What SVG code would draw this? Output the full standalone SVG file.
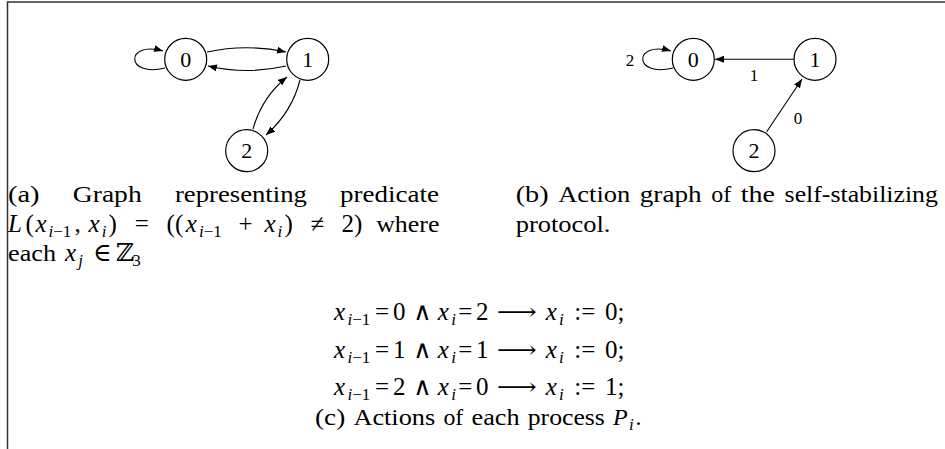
<svg xmlns="http://www.w3.org/2000/svg" width="945" height="449" viewBox="0 0 945 449">
<style>
.t{font-family:"Liberation Serif","DejaVu Serif",serif;font-size:24px;fill:#000}
.m{font-size:25px}
.i{font-style:italic}
.s{font-size:17px}
.n{font-family:"Liberation Serif","DejaVu Serif",serif;font-size:22px;text-anchor:middle;fill:#000}
.e{font-family:"Liberation Serif","DejaVu Serif",serif;font-size:17px;text-anchor:middle;fill:#000}
.c{fill:#fff;stroke:#000;stroke-width:1.2}
.l{fill:none;stroke:#000;stroke-width:1.1}
.b{fill:none;stroke:#333;stroke-width:1.5}
</style>
<defs>
<marker id="ah" markerUnits="userSpaceOnUse" markerWidth="10" markerHeight="8" refX="9" refY="3.5" orient="auto">
<path d="M0,0 L9,3.5 L0,7 z" fill="#000"/>
</marker>
</defs>
<rect width="945" height="449" fill="#fff"/>
<path class="b" d="M7.5,449 L7.5,2 L945,2"/>

<g id="connectors">
<path class="l" d="M165,68 C125,78 125,40 163,51" marker-end="url(#ah)"/>
<path class="l" d="M207,52 Q246,43.5 286,52" marker-end="url(#ah)"/>
<path class="l" d="M286,66 Q247,75 208,66" marker-end="url(#ah)"/>
<path class="l" d="M253,129 Q262,97 287,77" marker-end="url(#ah)"/>
<path class="l" d="M300,80 Q292,112 266,135" marker-end="url(#ah)"/>
<path class="l" d="M673,68 C633,78 633,40 671,51" marker-end="url(#ah)"/>
<path class="l" d="M794,59.3 L715,59.3" marker-end="url(#ah)"/>
<path class="l" d="M766.7,131.7 L802,79" marker-end="url(#ah)"/>
<text class="e" x="630" y="65.8">2</text>
<text class="e" x="754" y="80.8">1</text>
<text class="e" x="798" y="123.8">0</text>
</g>

<g id="a0"><circle class="c" cx="185.7" cy="59.3" r="21"/><text class="n" x="185.7" y="66.8">0</text></g>
<g id="a1"><circle class="c" cx="307.7" cy="59.3" r="21"/><text class="n" x="307.7" y="66.8">1</text></g>
<g id="a2"><circle class="c" cx="246.7" cy="150.7" r="21"/><text class="n" x="246.7" y="158.2">2</text></g>
<g id="b0"><circle class="c" cx="693.3" cy="59.3" r="21"/><text class="n" x="693.3" y="66.8">0</text></g>
<g id="b1"><circle class="c" cx="815" cy="59.3" r="21"/><text class="n" x="815" y="66.8">1</text></g>
<g id="b2"><circle class="c" cx="754" cy="150.7" r="21"/><text class="n" x="754" y="158.2">2</text></g>

<g id="caption-a">
<text class="t" x="8" y="202" textLength="31.6" lengthAdjust="spacingAndGlyphs">(a)</text>
<text class="t" x="72.8" y="202" textLength="68.9" lengthAdjust="spacingAndGlyphs">Graph</text>
<text class="t" x="174.9" y="202" textLength="132" lengthAdjust="spacingAndGlyphs">representing</text>
<text class="t" x="340.1" y="202" textLength="98.9" lengthAdjust="spacingAndGlyphs">predicate</text>
<text class="t m" y="231.6"><tspan x="8" class="i">L</tspan><tspan x="25.5">(</tspan><tspan x="35.5" class="i">x</tspan><tspan x="48.5" dy="5" class="s"><tspan class="i">i</tspan>−1</tspan><tspan x="74.6" dy="-5">,</tspan><tspan x="88.6" class="i">x</tspan><tspan x="101.7" dy="5" class="s i">i</tspan><tspan x="108.6" dy="-5">)</tspan><tspan x="134.8">=</tspan><tspan x="166.6">((</tspan><tspan x="185.8" class="i">x</tspan><tspan x="198.9" dy="5" class="s"><tspan class="i">i</tspan>−1</tspan><tspan x="238.4" dy="-5">+</tspan><tspan x="264.4" class="i">x</tspan><tspan x="277.5" dy="5" class="s i">i</tspan><tspan x="284.4" dy="-5">)</tspan><tspan x="310.4">≠</tspan><tspan x="341.4">2)</tspan></text>
<text class="t" x="376.2" y="231.6" textLength="63.2" lengthAdjust="spacingAndGlyphs">where</text>
<text class="t" x="8" y="261.2" textLength="48" lengthAdjust="spacingAndGlyphs">each</text>
<text class="t m" y="261.2"><tspan x="65" class="i">x</tspan><tspan x="78.3" dy="5" class="s i">j</tspan><tspan x="93" dy="-5">∈</tspan><tspan x="115.7">ℤ</tspan><tspan x="132.2" dy="5" class="s">3</tspan></text>
</g>

<g id="caption-b">
<text class="t" x="515.7" y="202" textLength="32.9" lengthAdjust="spacingAndGlyphs">(b)</text>
<text class="t" x="558.2" y="202" textLength="72" lengthAdjust="spacingAndGlyphs">Action</text>
<text class="t" x="639.8" y="202" textLength="61.8" lengthAdjust="spacingAndGlyphs">graph</text>
<text class="t" x="711.2" y="202" textLength="19.9" lengthAdjust="spacingAndGlyphs">of</text>
<text class="t" x="740.7" y="202" textLength="34.3" lengthAdjust="spacingAndGlyphs">the</text>
<text class="t" x="784.6" y="202" textLength="153.3" lengthAdjust="spacingAndGlyphs">self-stabilizing</text>
<text class="t" x="515.7" y="231.6" textLength="94.8" lengthAdjust="spacingAndGlyphs">protocol.</text>
</g>

<g id="actions">
<text class="t m" y="320"><tspan x="334" class="i">x</tspan><tspan x="347.5" dy="5" class="s"><tspan class="i">i</tspan>−1</tspan><tspan x="375" dy="-5">=</tspan><tspan x="393">0</tspan><tspan x="413.3">∧</tspan><tspan x="437.8" class="i">x</tspan><tspan x="451.3" dy="5" class="s i">i</tspan><tspan x="458.3" dy="-5">=</tspan><tspan x="476">2</tspan><tspan x="545.7" class="i">x</tspan><tspan x="559.1" dy="5" class="s i">i</tspan><tspan x="574.2" dy="-5">:=</tspan><tspan x="605">0;</tspan></text>
<text class="t" x="496.8" y="320" textLength="40" lengthAdjust="spacingAndGlyphs">⟶</text>
<text class="t m" y="357.5"><tspan x="334" class="i">x</tspan><tspan x="347.5" dy="5" class="s"><tspan class="i">i</tspan>−1</tspan><tspan x="375" dy="-5">=</tspan><tspan x="393">1</tspan><tspan x="413.3">∧</tspan><tspan x="437.8" class="i">x</tspan><tspan x="451.3" dy="5" class="s i">i</tspan><tspan x="458.3" dy="-5">=</tspan><tspan x="476">1</tspan><tspan x="545.7" class="i">x</tspan><tspan x="559.1" dy="5" class="s i">i</tspan><tspan x="574.2" dy="-5">:=</tspan><tspan x="605">0;</tspan></text>
<text class="t" x="496.8" y="357.5" textLength="40" lengthAdjust="spacingAndGlyphs">⟶</text>
<text class="t m" y="395"><tspan x="334" class="i">x</tspan><tspan x="347.5" dy="5" class="s"><tspan class="i">i</tspan>−1</tspan><tspan x="375" dy="-5">=</tspan><tspan x="393">2</tspan><tspan x="413.3">∧</tspan><tspan x="437.8" class="i">x</tspan><tspan x="451.3" dy="5" class="s i">i</tspan><tspan x="458.3" dy="-5">=</tspan><tspan x="476">0</tspan><tspan x="545.7" class="i">x</tspan><tspan x="559.1" dy="5" class="s i">i</tspan><tspan x="574.2" dy="-5">:=</tspan><tspan x="605">1;</tspan></text>
<text class="t" x="496.8" y="395" textLength="40" lengthAdjust="spacingAndGlyphs">⟶</text>
</g>

<g id="caption-c">
<text class="t" x="315" y="425" textLength="30.2" lengthAdjust="spacingAndGlyphs">(c)</text>
<text class="t" x="353.4" y="425" textLength="81.8" lengthAdjust="spacingAndGlyphs">Actions</text>
<text class="t" x="443.4" y="425" textLength="19.9" lengthAdjust="spacingAndGlyphs">of</text>
<text class="t" x="471.5" y="425" textLength="48" lengthAdjust="spacingAndGlyphs">each</text>
<text class="t" x="527.7" y="425" textLength="77.2" lengthAdjust="spacingAndGlyphs">process</text>
<text class="t" y="425"><tspan x="613.1" class="i">P</tspan><tspan x="629" dy="5" class="s i">i</tspan><tspan x="635.5" dy="-5">.</tspan></text>
</g>
</svg>
